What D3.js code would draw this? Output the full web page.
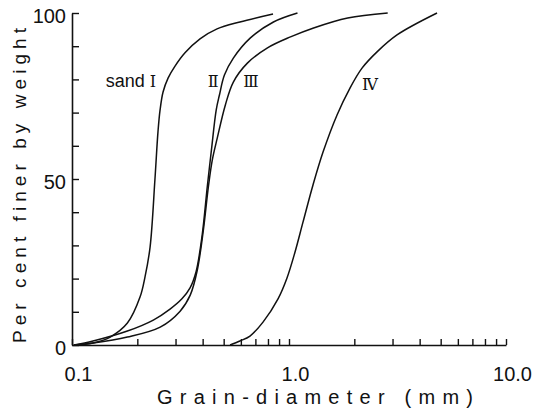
<!DOCTYPE html>
<html>
<head>
<meta charset="utf-8">
<script src="https://cdn.jsdelivr.net/npm/d3@7"></script>
<style>
  body { margin: 0; background: #fff; }
  text { font-family: "Liberation Sans", "DejaVu Sans", sans-serif; fill: #111; }
</style>
</head>
<body>
<div id="chart"></div>
<script>
// grain diameter (mm) and per cent finer
const sizesI  = [0.103, 0.125, 0.150, 0.180, 0.206, 0.217, 0.229, 0.241, 0.249, 0.2546, 0.2628, 0.2771, 0.2984, 0.3317, 0.389, 0.466, 0.594, 0.844];
const finerI  = [0, 0.6, 2.4, 6.6, 14.5, 20.5, 29.5, 49.7, 64.2, 70.8, 76.2, 80.4, 84.0, 88.0, 92.2, 95.2, 97.3, 99.7];

const sizesII = [0.102, 0.125, 0.180, 0.237, 0.283, 0.321, 0.350, 0.3728, 0.398, 0.420, 0.439, 0.462, 0.478, 0.504, 0.554, 0.664, 0.848, 1.094];
const finerII = [0, 1.2, 4.2, 7.5, 10.8, 13.9, 17.2, 22.0, 33.1, 47.6, 58.7, 70.8, 75.3, 81.3, 86.4, 92.5, 97.3, 100];

const sizesIII = [0.102, 0.125, 0.180, 0.255, 0.315, 0.351, 0.378, 0.403, 0.425, 0.443, 0.467, 0.509, 0.554, 0.643, 0.796, 1.016, 1.298, 1.864, 2.85];
const finerIII = [0, 0.6, 2.4, 5.4, 10.2, 15.1, 22.6, 34.6, 47.6, 55.7, 62.3, 72.3, 79.2, 84.9, 89.5, 92.8, 95.5, 98.5, 100];

const sizesIV = [0.535, 0.594, 0.661, 0.759, 0.890, 0.979, 1.066, 1.160, 1.290, 1.435, 1.665, 1.910, 2.17, 2.545, 3.146, 4.81];
const finerIV = [0, 1.2, 2.7, 6.9, 13.9, 20.2, 28, 37, 48.2, 58.1, 69.3, 77.4, 83.4, 88.3, 93.4, 100];

const xTicks = [0.1, 0.2, 0.3, 0.4, 0.5, 0.6, 0.7, 0.8, 0.9, 1, 2, 3, 4, 5, 6, 7, 8, 9, 10];
const xLabels = { 0.1: "0.1", 1: "1.0", 10: "10.0" };
const yTicks = [0, 10, 20, 30, 40, 50, 60, 70, 80, 90, 100];
const yLabels = [0, 50, 100];

const curveNames = ["\u2160", "\u2161", "\u2162", "\u2163"];

const width = 545, height = 412;

const svg = d3.select("#chart")
    .append("svg")
    .attr("width", width)
    .attr("height", height);

const x = d3.scaleLog()
    .domain([0.1, 10])
    .range([72, 506]);

const y = d3.scaleLinear()
    .domain([0, 100])
    .range([345, 13]);

// x axis, ticks pointing up into the plot
const xAxis = svg.append("g")
    .attr("transform", `translate(0, ${y(0)})`)
    .call(d3.axisBottom(x)
        .tickValues(xTicks)
        .tickSizeInner(-6)
        .tickSizeOuter(0)
        .tickFormat(d => xLabels[d] || ""));
xAxis.select("path.domain").attr("stroke", "#111").attr("stroke-width", 1.6);
xAxis.selectAll(".tick line").attr("stroke", "#111").attr("stroke-width", 1.4);
xAxis.selectAll(".tick text")
    .attr("y", 22)
    .attr("dx", 6)
    .attr("dy", "0.71em")
    .style("font-size", "20px")
    .style("font-family", "Liberation Sans, sans-serif");

// y axis, ticks pointing right
const yAxis = svg.append("g")
    .attr("transform", `translate(${x(0.1)}, 0)`)
    .call(d3.axisLeft(y)
        .tickValues(yTicks)
        .tickSizeInner(-7)
        .tickSizeOuter(0)
        .tickFormat(d => yLabels.includes(d) ? d : ""));
yAxis.select("path.domain").attr("stroke", "#111").attr("stroke-width", 1.6);
yAxis.selectAll(".tick line").attr("stroke", "#111").attr("stroke-width", 1.4);
yAxis.selectAll(".tick text")
    .attr("x", -6)
    .attr("dy", "0.45em")
    .style("font-size", "20px")
    .style("font-family", "Liberation Sans, sans-serif");

// axis titles
svg.append("text")
    .attr("x", 157)
    .attr("y", 404)
    .attr("textLength", 316)
    .attr("lengthAdjust", "spacing")
    .style("font-size", "20px")
    .text("Grain-diameter (mm)");

svg.append("text")
    .attr("transform", "translate(26, 343) rotate(-90)")
    .attr("textLength", 315)
    .attr("lengthAdjust", "spacing")
    .style("font-size", "19px")
    .text("Per cent finer by weight");

// curves
const series = [
    { sizes: sizesI, finer: finerI },
    { sizes: sizesII, finer: finerII },
    { sizes: sizesIII, finer: finerIII },
    { sizes: sizesIV, finer: finerIV }
];

const line = d3.line()
    .x(d => x(d[0]))
    .y(d => y(d[1]))
    .curve(d3.curveCatmullRom.alpha(0.5));

svg.selectAll("path.curve")
    .data(series)
    .enter()
    .append("path")
    .attr("class", "curve")
    .attr("d", s => line(s.sizes.map((v, i) => [v, s.finer[i]])))
    .attr("fill", "none")
    .attr("stroke", "#111")
    .attr("stroke-width", 1.5);

// curve labels, placed next to each curve
const labelAt = [
    { x: 0.187, y: 77.7, prefix: "sand " },
    { x: 0.447, y: 77.7, prefix: "" },
    { x: 0.668, y: 77.7, prefix: "" },
    { x: 2.36, y: 76.8, prefix: "" }
];

const labels = svg.selectAll("text.curve-label")
    .data(curveNames)
    .enter()
    .append("text")
    .attr("class", "curve-label")
    .attr("x", (d, i) => x(labelAt[i].x))
    .attr("y", (d, i) => y(labelAt[i].y))
    .attr("text-anchor", "middle")
    .style("font-size", "18px");

labels.append("tspan")
    .style("font-family", "Liberation Sans, sans-serif")
    .text((d, i) => labelAt[i].prefix);

labels.append("tspan")
    .style("font-family", "DejaVu Serif, serif")
    .style("font-size", "16px")
    .text(d => d);
</script>
</body>
</html>
